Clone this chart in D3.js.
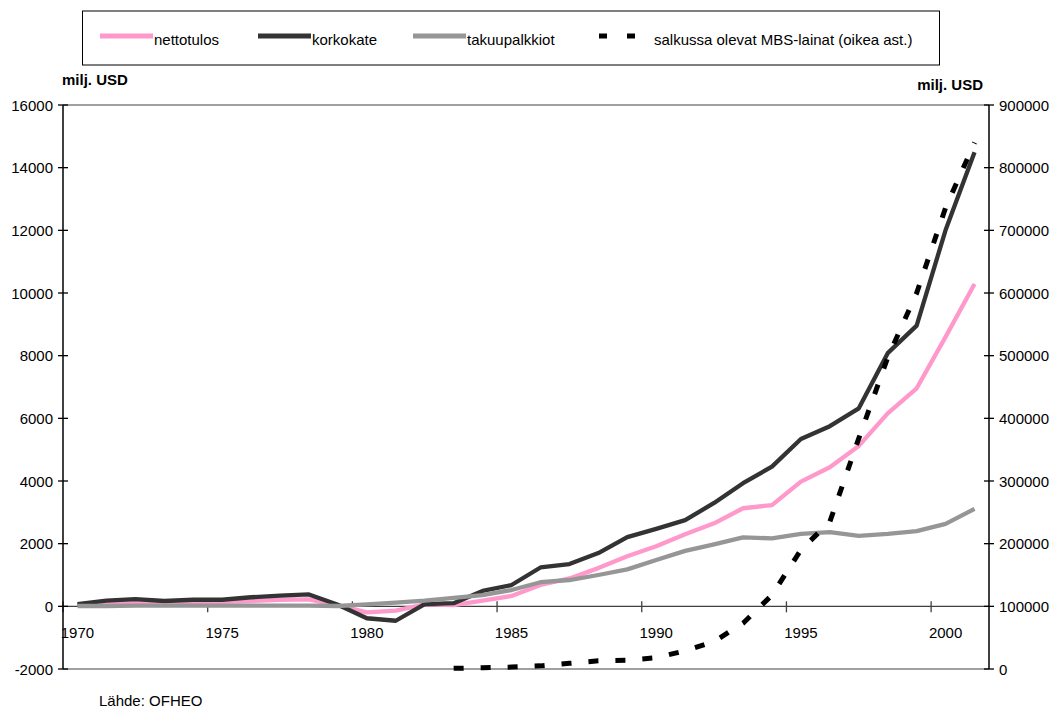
<!DOCTYPE html>
<html>
<head>
<meta charset="utf-8">
<script src="https://cdn.jsdelivr.net/npm/d3@7"></script>
<style>
  body { margin: 0; background: #fff; }
  svg { display: block; font-family: "Liberation Sans", Arial, sans-serif; }
</style>
</head>
<body>
<svg id="chart" width="1056" height="708"></svg>
<script>
// vuodet 1970-2001
const years = d3.range(1970, 2002);
const nettotulos = [60,100,110,120,130,140,170,210,220,30,-190,-140,60,40,180,330,680,890,1220,1600,1920,2300,2650,3130,3230,3980,4440,5120,6160,6960,8600,10290];
const korkokate = [70,180,230,170,210,210,290,340,380,50,-380,-460,70,100,490,680,1240,1350,1700,2210,2470,2750,3300,3930,4460,5340,5750,6320,8080,8960,12010,14490];
const takuupalkkiot = [10,10,20,20,20,20,20,20,20,10,60,120,180,270,360,520,770,840,1000,1180,1480,1770,1980,2200,2170,2310,2370,2250,2310,2400,2630,3110];
// oikea akseli, alkaa 1983
const mbsYears = d3.range(1983, 2002);
const mbs = [1000,2000,3000,5000,9000,13000,14000,18000,29000,44000,73000,118000,190000,235000,368000,497000,600000,736000,840000];

const leftTicks = d3.range(-2000, 16001, 2000);
const rightTicks = d3.range(0, 900001, 100000);
const yearLabels = [1970, 1975, 1980, 1985, 1990, 1995, 2000];

const svg = d3.select("#chart");
const margin = {left: 63, right: 989, top: 105, bottom: 669};

let x = d3.scaleLinear().domain([1969.5, 2001.5]).range([margin.left, margin.right]);
let yL = d3.scaleLinear().domain([-2000, 16000]).range([margin.bottom, margin.top]);
let yR = d3.scaleLinear().domain([0, 900000]).range([margin.bottom, margin.top]);

// plot area top & bottom border
svg.append("line").attr("x1", margin.left).attr("x2", margin.right)
  .attr("y1", margin.top).attr("y2", margin.top).attr("stroke", "#808080").attr("stroke-width", 1.5);
svg.append("line").attr("x1", margin.left).attr("x2", margin.right)
  .attr("y1", margin.bottom).attr("y2", margin.bottom).attr("stroke", "#808080").attr("stroke-width", 1.5);

// x axis at zero
let y0 = yL(0);
svg.append("line").attr("x1", margin.left).attr("x2", margin.right)
  .attr("y1", y0).attr("y2", y0).attr("stroke", "#404040").attr("stroke-width", 1.3);
svg.append("g").selectAll("line")
  .data(yearLabels)
  .join("line")
    .attr("x1", d => x(d - 0.5)).attr("x2", d => x(d - 0.5))
    .attr("y1", y0 - 5).attr("y2", y0 + 6)
    .attr("stroke", "#404040").attr("stroke-width", 1.3);
svg.append("g").selectAll("text")
  .data(yearLabels)
  .join("text")
    .attr("x", d => x(d))
    .attr("y", 638)
    .attr("text-anchor", "middle")
    .attr("font-size", 15)
    .text(d => d);

// left axis
svg.append("line").attr("x1", margin.left).attr("x2", margin.left)
  .attr("y1", margin.top).attr("y2", margin.bottom).attr("stroke", "#000").attr("stroke-width", 1.5);
svg.append("g").selectAll("line")
  .data(leftTicks)
  .join("line")
    .attr("x1", margin.left - 5).attr("x2", margin.left + 5)
    .attr("y1", d => yL(d)).attr("y2", d => yL(d))
    .attr("stroke", "#000").attr("stroke-width", 1.3);
svg.append("g").selectAll("text")
  .data(leftTicks)
  .join("text")
    .attr("x", 53)
    .attr("y", d => yL(d) + 5.5)
    .attr("text-anchor", "end")
    .attr("font-size", 15)
    .text(d => d);

// right axis
svg.append("line").attr("x1", margin.right).attr("x2", margin.right)
  .attr("y1", margin.top).attr("y2", margin.bottom).attr("stroke", "#000").attr("stroke-width", 1.5);
svg.append("g").selectAll("line")
  .data(rightTicks)
  .join("line")
    .attr("x1", margin.right - 5).attr("x2", margin.right + 5)
    .attr("y1", d => yR(d)).attr("y2", d => yR(d))
    .attr("stroke", "#000").attr("stroke-width", 1.3);
svg.append("g").selectAll("text")
  .data(rightTicks)
  .join("text")
    .attr("x", 999)
    .attr("y", d => yR(d) + 5.5)
    .attr("text-anchor", "start")
    .attr("font-size", 15)
    .text(d => d);

// axis titles
svg.append("text").attr("x", 62).attr("y", 85).attr("font-size", 15)
  .attr("font-weight", "bold").text("milj. USD");
svg.append("text").attr("x", 983).attr("y", 90).attr("font-size", 15)
  .attr("text-anchor", "end").attr("font-weight", "bold").text("milj. USD");

// series
let series = [
  {name: "nettotulos", values: nettotulos, colour: "#ff99cc"},
  {name: "korkokate", values: korkokate, colour: "#333333"},
  {name: "takuupalkkiot", values: takuupalkkiot, colour: "#969696"}
];
let lineL = d3.line().x((d, i) => x(years[i])).y(d => yL(d));
svg.append("g").attr("class", "main")
  .selectAll("path")
  .data(series)
  .join("path")
    .attr("fill", "none")
    .attr("stroke", d => d.colour)
    .attr("stroke-width", 4.3)
    .attr("stroke-linejoin", "round")
    .attr("d", d => lineL(d.values));

let lineR = d3.line().x((d, i) => x(mbsYears[i])).y(d => yR(d));
svg.append("path")
  .attr("fill", "none")
  .attr("stroke", "#000")
  .attr("stroke-width", 5)
  .attr("stroke-dasharray", "10,17")
  .attr("d", lineR(mbs));

// legend
let legend = svg.append("g").attr("class", "legend");
legend.append("rect").attr("x", 82.5).attr("y", 11).attr("width", 857).attr("height", 54)
  .attr("fill", "#fff").attr("stroke", "#000").attr("stroke-width", 1);
let items = [
  {x: 100, label: "nettotulos", colour: "#ff99cc", dash: null},
  {x: 258, label: "korkokate", colour: "#333333", dash: null},
  {x: 413, label: "takuupalkkiot", colour: "#969696", dash: null},
  {x: 599, label: "salkussa olevat MBS-lainat (oikea ast.)", colour: "#000", dash: "8,20"}
];
items.forEach(it => {
  legend.append("line")
    .attr("x1", it.x).attr("x2", it.dash ? it.x + 36 : it.x + 53)
    .attr("y1", 36).attr("y2", 36)
    .attr("stroke", it.colour).attr("stroke-width", 5)
    .attr("stroke-dasharray", it.dash);
  legend.append("text")
    .attr("x", it.dash ? 654 : it.x + 54)
    .attr("y", 45)
    .attr("font-size", 15)
    .text(it.label);
});

// source
svg.append("text").attr("x", 99).attr("y", 706).attr("font-size", 15).text("Lähde: OFHEO");
</script>
</body>
</html>
